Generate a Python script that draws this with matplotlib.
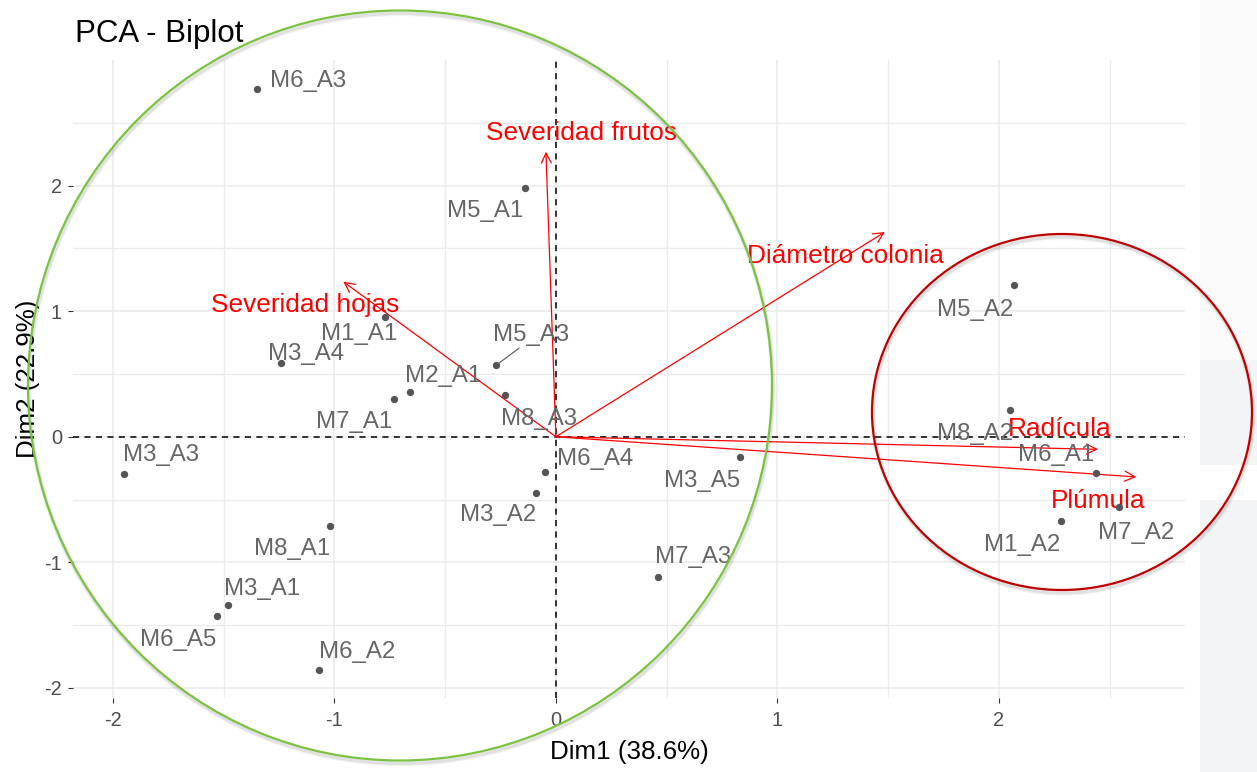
import matplotlib
matplotlib.use('Agg')
from matplotlib import pyplot as plt
from matplotlib.patches import Ellipse, Rectangle
from matplotlib.ticker import FixedLocator, FuncFormatter

plt.rcParams['font.family'] = ['Liberation Sans', 'DejaVu Sans']

# individuals (scores on Dim1 / Dim2)
ind_names = ['M6_A3', 'M5_A1', 'M5_A2', 'M1_A1', 'M3_A4', 'M5_A3', 'M2_A1',
             'M7_A1', 'M8_A3', 'M8_A2', 'M6_A1', 'M7_A2', 'M1_A2', 'M6_A4',
             'M3_A2', 'M3_A5', 'M3_A3', 'M8_A1', 'M7_A3', 'M3_A1', 'M6_A5',
             'M6_A2']
dim1 = [-1.35, -0.14, 2.07, -0.77, -1.24, -0.27, -0.66,
        -0.73, -0.23, 2.05, 2.44, 2.54, 2.28, -0.05,
        -0.09, 0.83, -1.95, -1.02, 0.46, -1.48, -1.53,
        -1.07]
dim2 = [2.77, 1.98, 1.21, 0.95, 0.59, 0.57, 0.36,
        0.30, 0.33, 0.21, -0.29, -0.56, -0.67, -0.28,
        -0.45, -0.16, -0.30, -0.71, -1.12, -1.34, -1.43,
        -1.86]

# variables (arrows)
var_names = ['Severidad frutos', 'Diámetro colonia', 'Severidad hojas',
             'Radícula', 'Plúmula']
var_dim1 = [-0.045, 1.485, -0.96, 2.447, 2.62]
var_dim2 = [2.27, 1.63, 1.235, -0.10, -0.32]

x_ticks = [-2, -1, 0, 1, 2]
y_ticks = [-2, -1, 0, 1, 2]

title = 'PCA - Biplot'
xlabel = 'Dim1 (38.6%)'
ylabel = 'Dim2 (22.9%)'

# label offsets in pixels (repelled labels)
ind_offsets = {
    'M6_A3': (51, 8), 'M5_A1': (-40, -23), 'M5_A2': (-39, -25),
    'M1_A1': (-26, -17), 'M3_A4': (25, 9), 'M5_A3': (35, 30),
    'M2_A1': (33, 16), 'M7_A1': (-40, -23), 'M8_A3': (34, -24),
    'M8_A2': (-35, -24), 'M6_A1': (-40, 18), 'M7_A2': (18, -26),
    'M1_A2': (-39, -24), 'M6_A4': (50, 13), 'M3_A2': (-38, -22),
    'M3_A5': (-38, -24), 'M3_A3': (37, 19), 'M8_A1': (-38, -23),
    'M7_A3': (35, 20), 'M3_A1': (34, 16), 'M6_A5': (-39, -24),
    'M6_A2': (38, 18),
}
var_offsets = [(36, 19), (-39, -24), (-38, -23), (-38, 20), (-38, -24)]

W, H = 1257, 772
fig = plt.figure(figsize=(W / 100, H / 100), dpi=100)
fig.patch.set_facecolor('white')

# slide background on the right edge
for (y0, y1, c) in [(0, 360, '#fafafa'), (360, 465, '#f3f4f6'), (500, 772, '#f3f4f6')]:
    fig.add_artist(Rectangle((1200 / W, 1 - y1 / H), 57 / W, (y1 - y0) / H,
                             transform=fig.transFigure, color=c, lw=0, zorder=0))

ax = fig.add_axes([73 / W, 1 - 698 / H, 1112 / W, 638 / H])
ax.set_xlim(-2.18, 2.84)
ax.set_ylim(-2.08, 3.0)
ax.set_facecolor('white')
for s in ax.spines.values():
    s.set_visible(False)

ax.xaxis.set_major_locator(FixedLocator(x_ticks))
ax.yaxis.set_major_locator(FixedLocator(y_ticks))
ax.xaxis.set_minor_locator(FixedLocator([t + 0.5 for t in x_ticks]))
ax.yaxis.set_minor_locator(FixedLocator([t + 0.5 for t in y_ticks]))
ax.grid(True, which='major', color='#EBEBEB', lw=1.1)
ax.grid(True, which='minor', color='#EBEBEB', lw=1.0)
ax.set_axisbelow(True)
ax.tick_params(which='minor', length=0)
ax.tick_params(which='major', length=3.6, width=0.8, color='#333333',
               labelcolor='#4D4D4D', labelsize=14.4)
ax.tick_params(axis='y', pad=4.3)
ax.tick_params(axis='x', pad=5.5)
ax.xaxis.set_major_formatter(FuncFormatter(lambda v, p: '%d' % v))
ax.yaxis.set_major_formatter(FuncFormatter(lambda v, p: '%d' % v))

ax.axhline(0, color='black', lw=1.1, ls=(0, (4, 3.5)), zorder=2)
ax.axvline(0, color='black', lw=1.1, ls=(0, (4, 3.5)), zorder=2)

# variable arrows
for name, vx, vy, off in zip(var_names, var_dim1, var_dim2, var_offsets):
    ax.annotate('', xy=(vx, vy), xytext=(0, 0),
                arrowprops=dict(arrowstyle='->', color='red', lw=0.9,
                                mutation_scale=18, shrinkA=0, shrinkB=0), zorder=3)
    ax.annotate(name, xy=(vx, vy), xytext=off, textcoords='offset pixels',
                ha='center', va='center', color='red', fontsize=18.9, zorder=4)

# individuals
ax.scatter(dim1, dim2, s=28, color='#555555', zorder=5, linewidths=0)
for name, x, y in zip(ind_names, dim1, dim2):
    ax.annotate(name, xy=(x, y), xytext=ind_offsets[name], textcoords='offset pixels',
                ha='center', va='center', color='#666666', fontsize=17.3, zorder=6)
    if name == 'M5_A3':
        ax.annotate('', xy=(x, y), xytext=(23, 17), textcoords='offset pixels',
                    arrowprops=dict(arrowstyle='-', color='#666666', lw=0.9,
                                    shrinkA=0, shrinkB=3), zorder=6)

fig.text(75 / W, 1 - 42 / H, title, fontsize=22.5, va='baseline', ha='left')
fig.text(629 / W, 1 - 752 / H, xlabel, fontsize=18.7, ha='center', va='center')
fig.text(28 / W, 1 - 379 / H, ylabel, fontsize=18.7, ha='center', va='center',
         rotation=90)

# highlight circles drawn over the chart
def ring(cx, cy, rx, ry, color):
    for k, a in [(4, 0.03), (3, 0.04), (2, 0.05)]:
        fig.add_artist(Ellipse(((cx + 1) / W, 1 - (cy + 3) / H), 2 * rx / W, 2 * ry / H,
                               transform=fig.transFigure, fill=False,
                               edgecolor='#000000', alpha=a, lw=k, zorder=10))
    fig.add_artist(Ellipse((cx / W, 1 - cy / H), 2 * rx / W, 2 * ry / H,
                           transform=fig.transFigure, fill=False,
                           edgecolor=color, lw=1.6, zorder=11))

ring(400, 385.5, 372, 375, '#7CC242')
ring(1062, 412, 190, 178, '#C00000')

fig.savefig('out.png', dpi=100)
